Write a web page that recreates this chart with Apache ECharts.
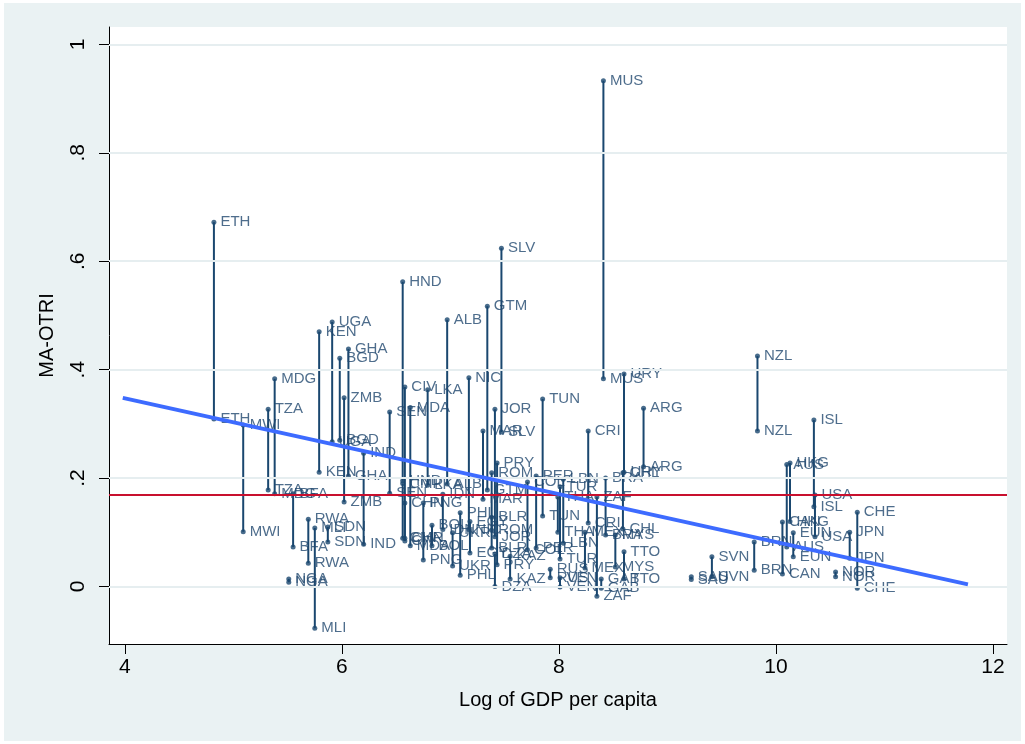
<!DOCTYPE html>
<html>
<head>
<meta charset="utf-8">
<title>MA-OTRI vs Log of GDP per capita</title>
<script src="https://cdn.jsdelivr.net/npm/echarts@6/dist/echarts.min.js"></script>
<style>
  html, body { margin: 0; padding: 0; background: #ffffff; }
  #chart { position: absolute; left: 0; top: 0; width: 1025px; height: 744px; }
</style>
</head>
<body>
<div id="chart"></div>
<script>
// Country codes, log GDP per capita and the two MA-OTRI measures joined by each spike
const iso = [
  'ETH','MWI','TZA','MDG','BFA','NGA','RWA','MLI','KEN','UGA',
  'SDN','BGD','GHA','ZMB','IND','SEN','HND','CIV','MDA','LKA',
  'ALB','NIC','GTM','SLV','JOR','MAR','PRY','ROM','TUN','PER',
  'COL','LBN','TUR','THA','ZAF','CRI','BRA','MEX','MYS','TTO',
  'CHL','URY','MUS','ARG','GAB','VEN','RUS','KAZ','DZA','EGY',
  'PHL','BLR','UKR','PNG','CHN','CMR','BOL','IDN',
  'SAU','SVN','BRN','NZL','CAN','HKG','AUS','EUN','USA','ISL',
  'JPN','NOR','CHE'
];
const lgdp = [
  4.82, 5.09, 5.32, 5.38, 5.55, 5.51, 5.69, 5.75, 5.79, 5.91,
  5.87, 5.98, 6.06, 6.02, 6.20, 6.44, 6.56, 6.58, 6.63, 6.79,
  6.97, 7.17, 7.34, 7.47, 7.41, 7.30, 7.43, 7.38, 7.85, 7.79,
  7.71, 8.04, 8.01, 7.99, 8.35, 8.27, 8.43, 8.24, 8.52, 8.60,
  8.59, 8.60, 8.41, 8.78, 8.39, 8.01, 7.92, 7.55, 7.41, 7.18,
  7.09, 7.38, 7.02, 6.75, 6.58, 6.56, 6.83, 6.93,
  9.22, 9.41, 9.80, 9.83, 10.06, 10.13, 10.10, 10.16, 10.36, 10.35,
  10.68, 10.55, 10.75
];
const otriA = [
  0.672, 0.298, 0.327, 0.383, 0.171, 0.014, 0.124, 0.108, 0.470, 0.488,
  0.110, 0.421, 0.438, 0.348, 0.246, 0.322, 0.562, 0.368, 0.330, 0.363,
  0.492, 0.385, 0.517, 0.624, 0.327, 0.287, 0.228, 0.210, 0.346, 0.204,
  0.193, 0.198, 0.184, 0.165, 0.165, 0.287, 0.200, 0.100, 0.095, 0.064,
  0.210, 0.392, 0.933, 0.329, 0.014, 0.016, 0.032, 0.056, 0.060, 0.120,
  0.136, 0.128, 0.099, 0.154, 0.154, 0.190, 0.113, 0.170,
  0.018, 0.055, 0.082, 0.425, 0.119, 0.228, 0.225, 0.099, 0.169, 0.307,
  0.100, 0.027, 0.137
];
const otriB = [
  0.309, 0.101, 0.178, 0.171, 0.073, 0.008, 0.043, -0.077, 0.211, 0.267,
  0.082, 0.270, 0.204, 0.156, 0.078, 0.172, 0.195, 0.084, 0.075, 0.187,
  0.189, 0.105, 0.178, 0.285, 0.092, 0.161, 0.040, 0.104, 0.130, 0.071,
  0.068, 0.080, 0.051, 0.100, -0.018, 0.117, 0.095, 0.034, 0.036, 0.014,
  0.106, 0.211, 0.383, 0.221, -0.003, -0.001, 0.016, 0.014, 0.000, 0.062,
  0.021, 0.071, 0.038, 0.049, 0.089, 0.089, 0.075, 0.105,
  0.013, 0.018, 0.030, 0.287, 0.023, 0.120, 0.073, 0.055, 0.092, 0.147,
  0.052, 0.018, -0.003
];

// Linear fit end points and the sample mean of MA-OTRI
const fitX = [3.98, 11.77];
const fitY = [0.348, 0.004];
const meanOtri = 0.168;

// Axis ticks
const xTicks = [4, 6, 8, 10, 12];
const yTicks = [0, 0.2, 0.4, 0.6, 0.8, 1];

const NAVY = '#1a476f';
const FONT = '"Liberation Sans", Arial, sans-serif';

const fmtY = v => {
  if (v === 0) return '0';
  if (Math.abs(v - 1) < 1e-9) return '1';
  return String(Math.round(v * 10) / 10).replace(/^0/, '');
};

const spikeData = iso.map((c, i) => [lgdp[i], otriA[i], otriB[i]]);
const ptsA = iso.map((c, i) => [lgdp[i], otriA[i], c]);
const ptsB = iso.map((c, i) => [lgdp[i], otriB[i], c]);

const pointLabel = {
  show: true,
  position: 'right',
  distance: 4,
  formatter: p => p.data[2],
  color: '#22496f',
  fontSize: 15,
  fontFamily: FONT
};

const chart = echarts.init(document.getElementById('chart'), null, { renderer: 'canvas' });

chart.setOption({
  animation: false,
  backgroundColor: 'transparent',
  graphic: [{
    type: 'rect',
    z: -100,
    silent: true,
    shape: { x: 4, y: 3, width: 1017, height: 738 },
    style: { fill: '#eaf2f3' }
  }],
  grid: {
    left: 109, top: 27, right: 18, bottom: 100,
    show: true, backgroundColor: '#ffffff', borderWidth: 0
  },
  xAxis: {
    type: 'value',
    min: 3.853, max: 12.13,
    name: 'Log of GDP per capita',
    nameLocation: 'middle',
    nameGap: 46,
    nameTextStyle: { color: '#000', fontSize: 20, fontFamily: FONT },
    axisLine: { show: true, onZero: false, lineStyle: { color: '#000', width: 1 } },
    axisTick: { show: true, length: 10, customValues: xTicks, lineStyle: { color: '#000' } },
    axisLabel: { customValues: xTicks, margin: 13, color: '#000', fontSize: 21, fontFamily: FONT },
    splitLine: { show: false }
  },
  yAxis: {
    type: 'value',
    min: -0.106, max: 1.032,
    name: 'MA-OTRI',
    nameLocation: 'middle',
    nameRotate: 90,
    nameGap: 52,
    nameTextStyle: { color: '#000', fontSize: 20, fontFamily: FONT },
    axisLine: { show: true, onZero: false, lineStyle: { color: '#000', width: 1 } },
    axisTick: { show: true, length: 10, customValues: yTicks, lineStyle: { color: '#000' } },
    axisLabel: {
      customValues: yTicks, rotate: 90, margin: 20,
      color: '#000', fontSize: 21, fontFamily: FONT,
      formatter: fmtY
    },
    splitLine: { show: false }
  },
  series: [
    {
      // horizontal grid lines at the labelled ticks
      type: 'line',
      data: [],
      silent: true,
      z: 1,
      markLine: {
        silent: true,
        symbol: 'none',
        label: { show: false },
        lineStyle: { color: '#e6eef0', width: 2, type: 'solid' },
        data: yTicks.map(v => ({ yAxis: v }))
      }
    },
    {
      type: 'custom',
      z: 2,
      silent: true,
      data: spikeData,
      encode: { x: 0, y: [1, 2] },
      renderItem: (params, api) => {
        const p1 = api.coord([api.value(0), api.value(1)]);
        const p2 = api.coord([api.value(0), api.value(2)]);
        return {
          type: 'line',
          shape: { x1: p1[0], y1: p1[1], x2: p2[0], y2: p2[1] },
          style: { stroke: NAVY, lineWidth: 2 }
        };
      }
    },
    {
      type: 'scatter',
      z: 3,
      data: ptsA,
      symbol: 'circle',
      symbolSize: 5,
      itemStyle: { color: NAVY },
      label: pointLabel
    },
    {
      type: 'scatter',
      z: 3,
      data: ptsB,
      symbol: 'circle',
      symbolSize: 5,
      itemStyle: { color: NAVY },
      label: pointLabel
    },
    {
      type: 'line',
      z: 5,
      data: fitX.map((x, i) => [x, fitY[i]]),
      symbol: 'none',
      lineStyle: { color: '#3d6bff', width: 4 },
      markLine: {
        silent: true,
        symbol: 'none',
        label: { show: false },
        lineStyle: { color: '#c8102e', width: 2, type: 'solid' },
        data: [{ yAxis: meanOtri }]
      }
    }
  ]
});
</script>
</body>
</html>
